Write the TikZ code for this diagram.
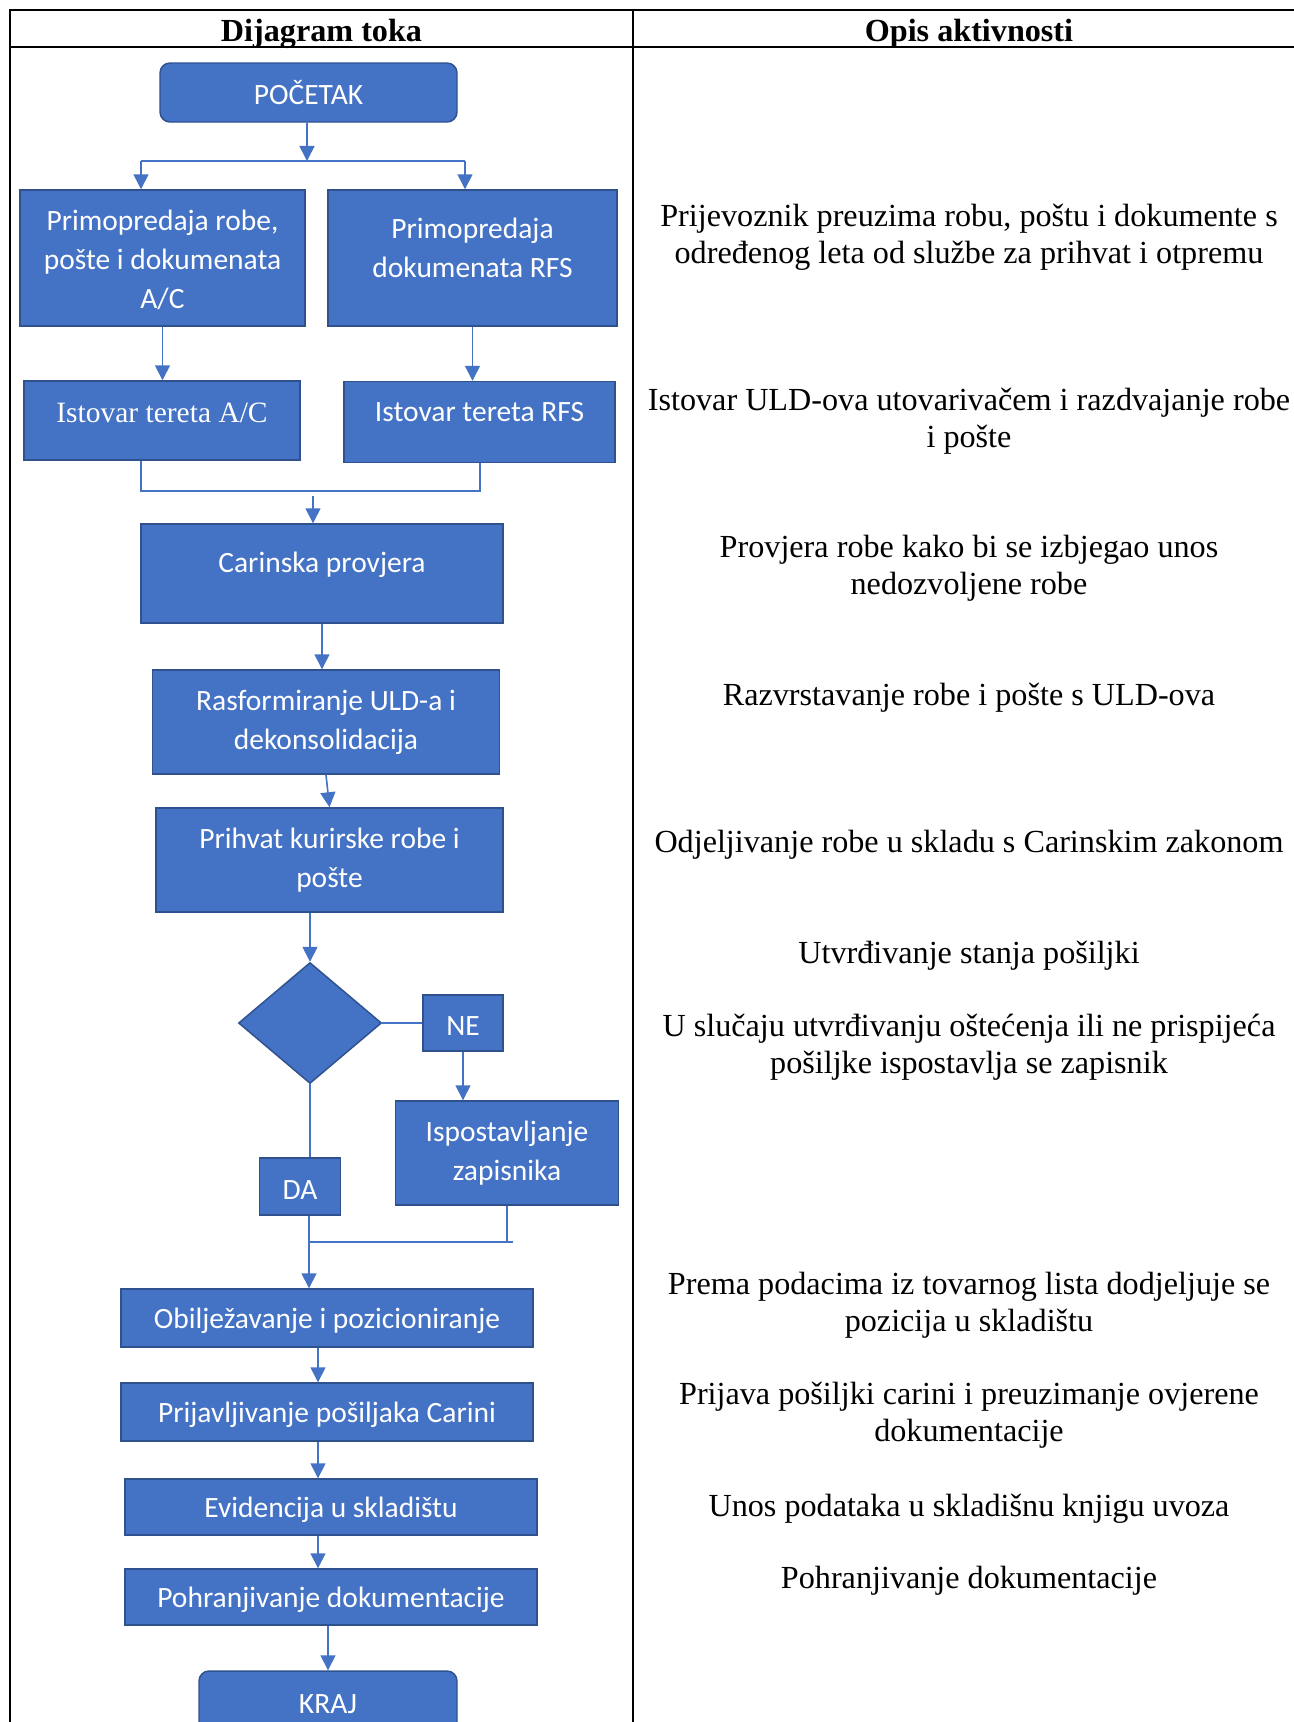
\documentclass[tikz,border=0pt]{standalone}
\usepackage{fontspec}
\setmainfont{Liberation Serif}
\newfontfamily\carlito{Carlito}
\usetikzlibrary{arrows.meta,shapes.geometric}
\definecolor{officeblue}{HTML}{4472C4}
\definecolor{edgeblue}{HTML}{2F528F}
\newcommand\pxl{*0.373pt}
\begin{document}
\begin{tikzpicture}[x=0.373pt,y=-0.373pt,
	box/.style={rectangle,draw=edgeblue,line width=0.55pt,fill=officeblue,text=white,font=\carlito\fontsize{11}{14.5}\selectfont,align=center,inner sep=0pt},
	lowdesc/.style={text height=8.8pt,text depth=1pt},
	lowcaps/.style={text height=9.6pt,text depth=0pt},
	flow/.style={draw=officeblue,line width=0.6pt,-{Triangle[width=5.6pt,length=5.6pt]}},
	link/.style={draw=officeblue,line width=0.6pt},
	desc/.style={font=\fontsize{12}{13.8}\selectfont,align=center,inner sep=0pt},
	head/.style={font=\fontsize{12}{13.8}\selectfont\bfseries,inner sep=0pt}]
	\useasboundingbox (0,0) rectangle (1294,1722);
	\draw[line width=0.75pt] (1320,10) -- (10,10) -- (10,1760);
	\draw[line width=0.75pt] (10,47) -- (1320,47);
	\draw[line width=0.75pt] (633,10) -- (633,1760);
	\node[head] (headflow) at (321.5,33.5) {Dijagram toka};
	\node[head] (headdesc) at (969,33.5) {Opis aktivnosti};

	\node[box,rounded corners=10\pxl,minimum width=297\pxl,minimum height=59\pxl] (start) at (308.5,92.5) {POČETAK};
	\node[box,minimum width=285\pxl,minimum height=136\pxl] (primA) at (162.5,258) {\mbox{}\\[-5.3pt]Primopredaja robe,\\pošte i dokumenata\\A/C};
	\node[box,minimum width=289\pxl,minimum height=136\pxl] (primB) at (472.5,258) {Primopredaja\\dokumenata RFS\\[-7pt]\mbox{}};
	\node[box,font=\fontsize{11}{12.7}\selectfont,text height=7.4pt,text depth=5.8pt,minimum width=276\pxl,minimum height=79\pxl] (istA) at (162,420.5) {Istovar tereta A/C};
	\node[box,text height=7.1pt,text depth=7.6pt,minimum width=271\pxl,minimum height=81\pxl] (istB) at (479.5,422) {Istovar tereta RFS};
	\node[box,text height=7.5pt,text depth=7.9pt,minimum width=362\pxl,minimum height=99\pxl] (carinska) at (322,573.5) {Carinska provjera};
	\node[box,minimum width=347\pxl,minimum height=104\pxl] (rasf) at (326,722) {Rasformiranje ULD-a i\\dekonsolidacija};
	\node[box,minimum width=347\pxl,minimum height=104\pxl] (prihvat) at (329.5,860) {Prihvat kurirske robe i\\pošte};
	\node[box,shape=diamond,minimum width=143\pxl,minimum height=121\pxl] (check) at (310,1023) {};
	\node[box,lowcaps,minimum width=80\pxl,minimum height=56\pxl] (ne) at (463,1023) {NE};
	\node[box,minimum width=223\pxl,minimum height=104\pxl] (ispost) at (507,1153) {Ispostavljanje\\zapisnika};
	\node[box,lowcaps,minimum width=81\pxl,minimum height=57\pxl] (da) at (300,1186.5) {DA};
	\node[box,lowdesc,minimum width=412\pxl,minimum height=58\pxl] (obil) at (327,1318) {Obilježavanje i pozicioniranje};
	\node[box,lowdesc,minimum width=412\pxl,minimum height=58\pxl] (prij) at (327,1412) {Prijavljivanje pošiljaka Carini};
	\node[box,lowdesc,minimum width=412\pxl,minimum height=56\pxl] (evid) at (331,1507) {Evidencija u skladištu};
	\node[box,lowdesc,minimum width=412\pxl,minimum height=56\pxl] (pohr) at (331,1597) {Pohranjivanje dokumentacije};
	\node[box,rounded corners=10\pxl,minimum width=258\pxl,minimum height=66\pxl] (kraj) at (328,1704) {KRAJ};

	\coordinate (fork) at (307,161);
	\coordinate (forkL) at (141,161);
	\coordinate (forkR) at (465,161);
	\draw[flow] (start.south -| fork) -- (fork);
	\draw[link] (forkL) -- (forkR);
	\draw[flow] (forkL) -- (forkL |- primA.north);
	\draw[flow] (forkR) -- (forkR |- primB.north);
	\draw[flow] (primA.south) -- (primA.south |- istA.north);
	\draw[flow] (primB.south) -- (primB.south |- istB.north);
	\coordinate (mergeL) at (141,491);
	\coordinate (mergeR) at (480,491);
	\coordinate (mergeC) at (313,496);
	\draw[link] (mergeL |- istA.south) -- (mergeL) -- (mergeR) -- (mergeR |- istB.south);
	\draw[flow] (mergeC) -- (mergeC |- carinska.north);
	\draw[flow] (carinska.south) -- (carinska.south |- rasf.north);
	\draw[flow] (rasf.south) -- (prihvat.north);
	\draw[flow] (prihvat.south -| check.north) -- (check.north);
	\draw[link] (check.east) -- (ne.west);
	\draw[flow] (ne.south) -- (ne.south |- ispost.north);
	\draw[link] (check.south) -- (check.south |- da.north);
	\coordinate (joinA) at (309,1242);
	\coordinate (joinB) at (513,1242);
	\draw[flow] (joinA |- da.south) -- (joinA |- obil.north);
	\draw[link] (joinA) -- (joinB);
	\draw[link] (ispost.south) -- (ispost.south |- joinB);
	\coordinate (spine) at (318,0);
	\draw[flow] (obil.south -| spine) -- (prij.north -| spine);
	\draw[flow] (prij.south -| spine) -- (evid.north -| spine);
	\draw[flow] (evid.south -| spine) -- (pohr.north -| spine);
	\draw[flow] (pohr.south -| kraj) -- (kraj.north);

	\node[desc] (desc1) at (969,237.5) {Prijevoznik preuzima robu, poštu i dokumente s\\određenog leta od službe za prihvat i otpremu};
	\node[desc] (desc2) at (969,421) {Istovar ULD-ova utovarivačem i razdvajanje robe\\i pošte};
	\node[desc] (desc3) at (969,568.5) {Provjera robe kako bi se izbjegao unos\\nedozvoljene robe};
	\node[desc] (desc4) at (969,697.5) {Razvrstavanje robe i pošte s ULD-ova};
	\node[desc] (desc5) at (969,845) {Odjeljivanje robe u skladu s Carinskim zakonom};
	\node[desc] (desc6) at (969,956) {Utvrđivanje stanja pošiljki};
	\node[desc] (desc7) at (969,1047) {U slučaju utvrđivanju oštećenja ili ne prispijeća\\pošiljke ispostavlja se zapisnik};
	\node[desc] (desc8) at (969,1305.5) {Prema podacima iz tovarnog lista dodjeljuje se\\pozicija u skladištu};
	\node[desc] (desc9) at (969,1415.5) {Prijava pošiljki carini i preuzimanje ovjerene\\dokumentacije};
	\node[desc] (desc10) at (969,1508.5) {Unos podataka u skladišnu knjigu uvoza};
	\node[desc] (desc11) at (969,1581) {Pohranjivanje dokumentacije};
\end{tikzpicture}
\end{document}
